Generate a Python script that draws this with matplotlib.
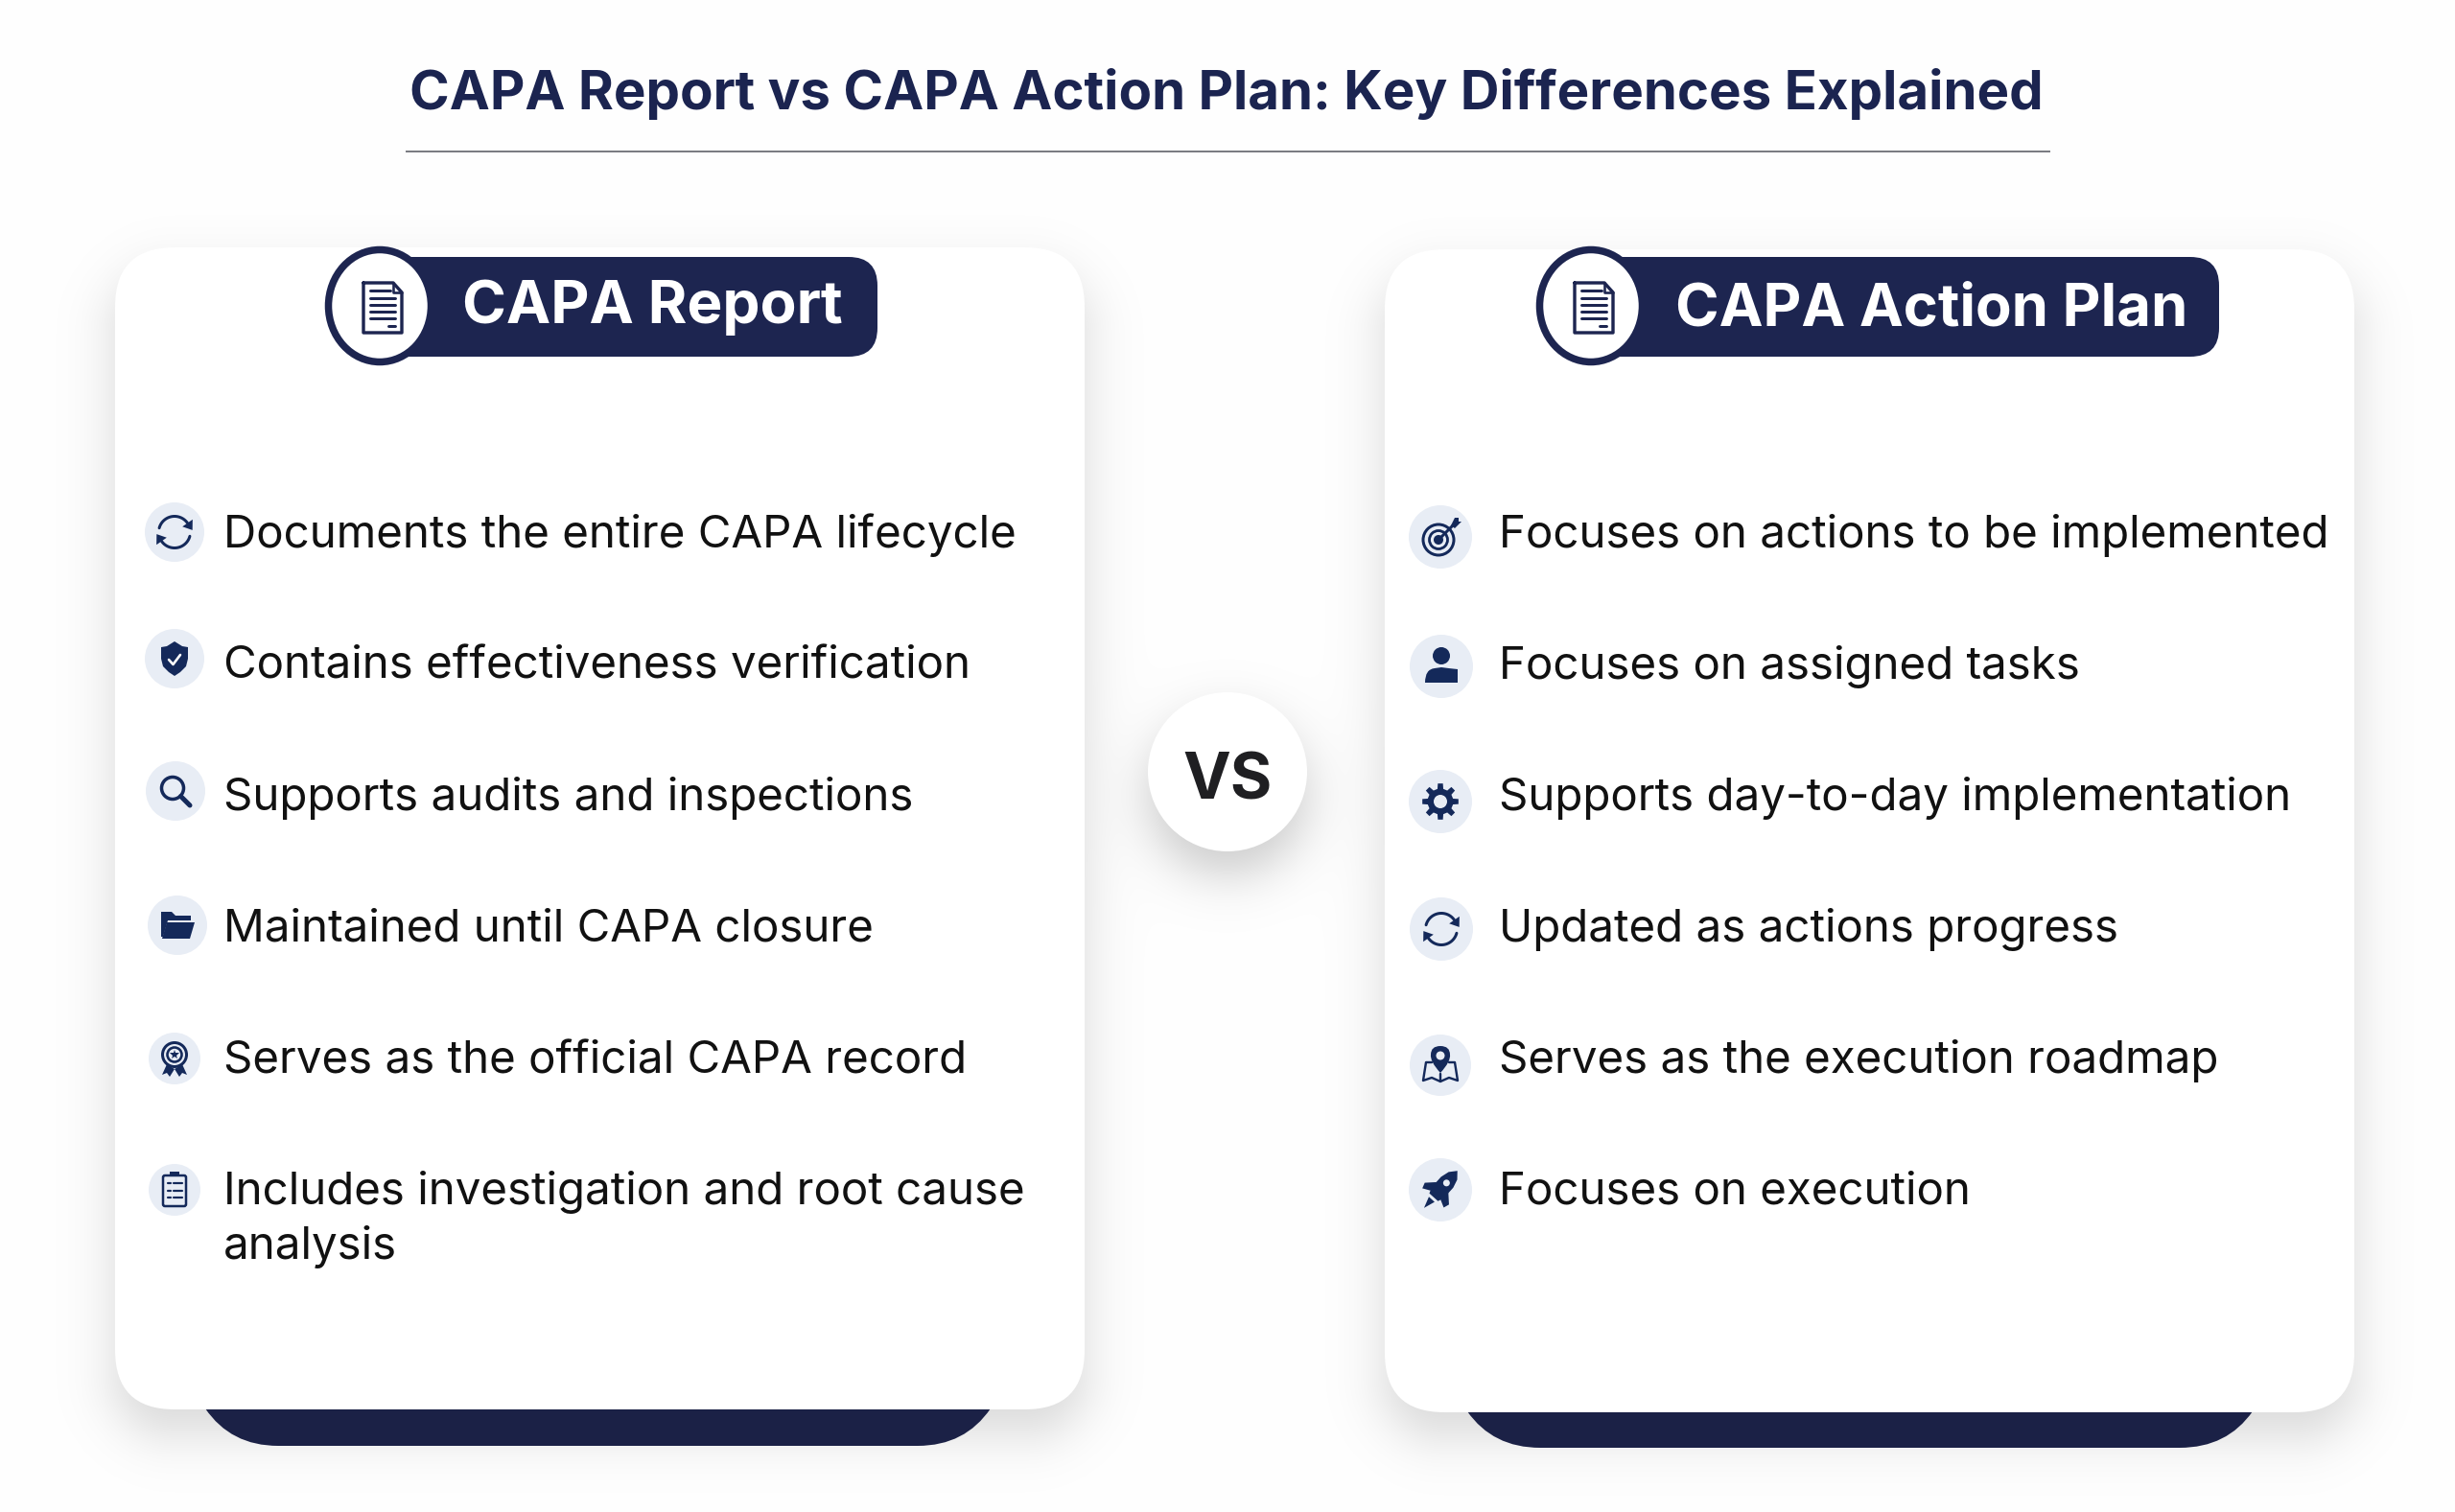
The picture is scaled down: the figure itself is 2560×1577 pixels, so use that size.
import numpy as np
import matplotlib
matplotlib.use("Agg")
import matplotlib.pyplot as plt
from matplotlib.patches import Circle, Ellipse, FancyBboxPatch, Polygon, PathPatch, Rectangle
from matplotlib.path import Path

plt.rcParams['font.family'] = ['Inter', 'DejaVu Sans']

title = "CAPA Report vs CAPA Action Plan: Key Differences Explained"
left_head = "CAPA Report"
right_head = "CAPA Action Plan"
left_items = ["Documents the entire CAPA lifecycle",
              "Contains effectiveness verification",
              "Supports audits and inspections",
              "Maintained until CAPA closure",
              "Serves as the official CAPA record",
              "Includes investigation and root cause\nanalysis"]
right_items = ["Focuses on actions to be implemented",
               "Focuses on assigned tasks",
               "Supports day-to-day implementation",
               "Updated as actions progress",
               "Serves as the execution roadmap",
               "Focuses on execution"]
left_icons = ["refresh", "shield", "search", "folder", "medal", "clipboard"]
right_icons = ["target", "person", "gear", "refresh", "map", "rocket"]

NAVY = "#1d2550"
ICON = "#14295a"
DISC = "#e8edf5"
W, H = 2560, 1577

fig = plt.figure(figsize=(W / 100, H / 100), dpi=100, facecolor="#fefefe")
ax = fig.add_axes([0, 0, 1, 1])
ax.set_xlim(0, W)
ax.set_ylim(H, 0)
ax.axis("off")


def px(v):
    # pixels to points
    return v * 0.72


def rect_sdf(xx, yy, x0, y0, x1, y1, r):
    qx = np.abs(xx - (x0 + x1) / 2) - (x1 - x0) / 2 + r
    qy = np.abs(yy - (y0 + y1) / 2) - (y1 - y0) / 2 + r
    return np.hypot(np.maximum(qx, 0), np.maximum(qy, 0)) + np.minimum(np.maximum(qx, qy), 0) - r


# soft shadows, worked out on a grid and laid under everything
xx, yy = np.meshgrid(np.arange(W) + 0.5, np.arange(H) + 0.5)
d1 = rect_sdf(xx, yy, 120, 286, 1131, 1495, 62)
d2 = rect_sdf(xx, yy, 1444, 288, 2455, 1498, 62)
d3 = np.hypot(xx - 1280, yy - 830) - 80
a1 = 0.15 * 0.5 * (1 - np.tanh(d1 / 34))
a2 = 0.15 * 0.5 * (1 - np.tanh(d2 / 34))
a3 = 0.20 * 0.5 * (1 - np.tanh(d3 / 32))
alpha = 1 - (1 - a1) * (1 - a2) * (1 - a3)
shade = np.zeros((H, W, 4))
shade[..., 3] = alpha
ax.imshow(shade, extent=(0, W, H, 0), zorder=0, interpolation="nearest", aspect="auto")
ax.set_xlim(0, W)
ax.set_ylim(H, 0)


def tab(x0, x1, y0, y1, bend):
    verts = [(x0, y0), (x0 + bend * 0.35, y1), (x0 + bend, y1), (x1 - bend, y1),
             (x1 - bend * 0.35, y1), (x1, y0), (x0, y0)]
    codes = [Path.MOVETO, Path.CURVE3, Path.CURVE3, Path.LINETO, Path.CURVE3, Path.CURVE3, Path.CLOSEPOLY]
    ax.add_patch(PathPatch(Path(verts, codes), fc="#1b2146", ec="none", zorder=1))


def card(x0, x1, y0, y1):
    ax.add_patch(FancyBboxPatch((x0, y0), x1 - x0, y1 - y0, boxstyle="round,pad=0,rounding_size=62",
                                fc="white", ec="none", zorder=2))


def fill(pts, cx, cy, color=ICON, z=6):
    pts = np.asarray(pts, float) + [cx, cy]
    ax.add_patch(Polygon(pts, closed=True, fc=color, ec="none", zorder=z))


def stroke(pts, cx, cy, lw=3.0, color=ICON, z=6):
    pts = np.asarray(pts, float) + [cx, cy]
    ax.plot(pts[:, 0], pts[:, 1], color=color, lw=px(lw), zorder=z, solid_capstyle="round", solid_joinstyle="round")


def ring(cx, cy, r, lw=3.0, fc="none", ec=ICON, z=6):
    ax.add_patch(Circle((cx, cy), r, fc=fc, ec=ec, lw=px(lw), zorder=z))


def curve(verts, codes, cx, cy, color=ICON, z=6):
    verts = np.asarray(verts, float) + [cx, cy]
    ax.add_patch(PathPatch(Path(verts, codes), fc=color, ec="none", zorder=z))


def refresh(cx, cy):
    r = 16.5
    for a, b in [(165, 35), (-15, -145)]:
        t = np.radians(np.linspace(a, b, 30))
        stroke(np.c_[r * np.cos(t), -r * np.sin(t)], cx, cy, 3.0)
        e = np.radians(b)
        ex, ey = r * np.cos(e), -r * np.sin(e)
        tx, ty = np.sin(e), np.cos(e)
        nx, ny = np.cos(e), -np.sin(e)
        fill([(ex + tx * 9, ey + ty * 9), (ex + nx * 6.5, ey + ny * 6.5), (ex - nx * 6.5, ey - ny * 6.5)], cx, cy)


def shield(cx, cy):
    V = [(0, -18), (8, -13), (14, -12), (14, 0), (12, 8), (6, 14), (0, 18), (-6, 14), (-12, 8), (-14, 0), (-14, -12), (-8, -13)]
    fill(V, cx, cy)
    stroke([(-6, 1), (-1.5, 6), (6, -4)], cx, cy, 2.6, color="white", z=7)


def search(cx, cy):
    ring(cx - 3, cy - 3, 11.5, 3.5)
    stroke([(5.5, 5.5), (15, 15)], cx, cy, 5)


def folder(cx, cy):
    fill([(-17, -14), (-6, -14), (-2, -10), (14, -10), (14, -5), (-10, -5), (-15, 12), (-17, 12)], cx, cy)
    fill([(-11, -3), (18, -3), (13, 14), (-16, 14)], cx, cy)


def medal(cx, cy):
    fill([(-8, 6), (-13, 17), (-8, 15), (-5, 19), (0, 11)], cx, cy)
    fill([(8, 6), (13, 17), (8, 15), (5, 19), (0, 11)], cx, cy)
    ring(cx, cy - 4, 12.5, 3.0, fc=DISC)
    ring(cx, cy - 4, 7.5, 2.6, fc=DISC)
    ax.plot(cx, cy - 4, marker="*", ms=px(10), color=ICON, mew=0, zorder=7)


def clipboard(cx, cy):
    ax.add_patch(FancyBboxPatch((cx - 12, cy - 15), 24, 32, boxstyle="round,pad=0,rounding_size=2",
                                fc="none", ec=ICON, lw=px(2.5), zorder=6))
    ax.add_patch(Rectangle((cx - 5, cy - 19), 10, 5, fc=ICON, ec="none", zorder=6))
    for dy in (-7, 1, 8):
        stroke([(-7, dy), (-4, dy)], cx, cy, 2.2)
        stroke([(-1, dy), (8, dy)], cx, cy, 2.2)


def target(cx, cy):
    c0, c1 = cx - 2, cy + 3
    ring(c0, c1, 16, 3.0)
    ring(c0, c1, 9.5, 2.8)
    ring(c0, c1, 3.5, 3, fc=ICON)
    stroke([(-2, 3), (14, -13)], cx, cy, 3, z=7)
    fill([(11, -12), (15, -20), (19, -20), (19, -16), (22, -16), (15, -9)], cx, cy, z=7)


def person(cx, cy):
    ax.add_patch(Circle((cx, cy - 11), 9, fc=ICON, ec="none", zorder=6))
    V = [(-17, 17), (-17, 3), (-7, 2), (0, 1), (7, 2), (17, 3), (17, 17), (-17, 17)]
    C = [Path.MOVETO, Path.CURVE3, Path.CURVE3, Path.LINETO, Path.CURVE3, Path.CURVE3, Path.LINETO, Path.CLOSEPOLY]
    curve(V, C, cx, cy)


def gear(cx, cy):
    pts = []
    for k in range(8):
        a = np.radians(k * 45)
        for off, rad in [(-13, 13.5), (-8, 19), (8, 19), (13, 13.5)]:
            t = a + np.radians(off)
            pts.append((rad * np.cos(t), rad * np.sin(t)))
    fill(pts, cx, cy)
    ax.add_patch(Circle((cx, cy), 7, fc=DISC, ec="none", zorder=7))


def roadmap(cx, cy):
    stroke([(-9, -3), (-15, -3), (-18, 16), (-9, 13), (0, 17), (9, 13), (18, 16), (15, -3), (9, -3)], cx, cy, 2.4)
    stroke([(0, 9), (0, 17)], cx, cy, 2.4)
    V = [(0, 8), (-11, -4), (-10, -11), (-10, -20), (0, -20), (10, -20), (10, -11), (11, -4), (0, 8)]
    C = [Path.MOVETO, Path.CURVE3, Path.CURVE3, Path.CURVE3, Path.CURVE3, Path.CURVE3, Path.CURVE3, Path.CURVE3, Path.CURVE3]
    curve(V, C, cx, cy)
    ax.add_patch(Circle((cx, cy - 10), 4.5, fc=DISC, ec="none", zorder=7))


def rocket(cx, cy):
    a = np.radians(-42)
    rot = np.array([[np.cos(a), np.sin(a)], [-np.sin(a), np.cos(a)]])

    def turn(p):
        return np.asarray(p, float) @ rot.T

    body = [(0, -28), (-6, -21), (-8.5, -12), (-8.5, 3), (-6, 9), (6, 9), (8.5, 3), (8.5, -12), (6, -21)]
    fill(turn(body), cx - 1, cy + 1, z=6)
    fill(turn([(-8, -5), (-17, 4), (-15, 10), (-7, 6)]), cx - 1, cy + 1)
    fill(turn([(8, -5), (17, 4), (15, 10), (7, 6)]), cx - 1, cy + 1)
    fill(turn([(-4, 12), (4, 12), (0, 24)]), cx - 1, cy + 1)
    wx, wy = turn(np.array([[0, -11]]))[0]
    ax.add_patch(Circle((cx - 1 + wx, cy + 1 + wy), 3.5, fc=DISC, ec="none", zorder=7))


def doc(cx, cy):
    stroke([(-20, -26), (11, -26), (20, -16), (20, 26), (-20, 26), (-20, -26)], cx, cy, 3.4, color=NAVY, z=6)
    stroke([(11, -26), (11, -16), (20, -16)], cx, cy, 2.6, color=NAVY, z=6)
    for dy, x1 in [(-18, 8), (-10, 13), (-3, 13), (4, 13), (11, 13)]:
        stroke([(-13, dy), (x1, dy)], cx, cy, 3.0, color=NAVY, z=6)
    stroke([(6, 19), (13, 19)], cx, cy, 3.0, color=NAVY, z=6)


draw_icon = {"refresh": refresh, "shield": shield, "search": search, "folder": folder, "medal": medal,
             "clipboard": clipboard, "target": target, "person": person, "gear": gear, "map": roadmap, "rocket": rocket}


def head(text, circle_x, pill_x1, text_x, base, cy, size):
    ax.add_patch(FancyBboxPatch((circle_x, 268), pill_x1 - circle_x, 104, boxstyle="round,pad=0,rounding_size=30",
                                fc=NAVY, ec="none", zorder=3))
    ax.add_patch(Ellipse((circle_x, cy), 107, 117, fc="white", ec=NAVY, lw=px(7.5), zorder=4))
    doc(circle_x + 3, cy + 2)
    ax.text(text_x, base, text, color="white", fontsize=size, fontweight="bold", va="baseline", ha="left", zorder=5)


def rows(items, icons, text_x, discs):
    for i, (item, name) in enumerate(zip(items, icons)):
        base = 571 + 137 * i
        for j, line in enumerate(item.split("\n")):
            ax.text(text_x, base + 57 * j, line, color="#111111", fontsize=34.2, va="baseline", ha="left", zorder=5)
        dx, dy, r = discs[i]
        ax.add_patch(Circle((dx, dy), r, fc=DISC, ec="none", zorder=5))
        draw_icon[name](dx, dy)


tab(214, 1033, 1469, 1508, 76)
tab(1530, 2349, 1472, 1510, 76)
card(120, 1131, 258, 1470)
card(1444, 2455, 260, 1473)

ax.text(1279, 114, title, color="#1b2450", fontsize=40.6, fontweight="bold", ha="center", va="baseline", zorder=5)
ax.plot([424, 2137], [158, 158], color="#77797f", lw=1.4, zorder=5)

head(left_head, 396, 915, 482, 337, 319, 44.7)
head(right_head, 1659, 2314, 1747, 339, 319, 44.3)

rows(left_items, left_icons, 233,
     [(182, 555, 31), (182, 687, 31), (183, 825, 31), (185, 965, 31), (182, 1104, 27), (182, 1241, 27)])
rows(right_items, right_icons, 1563,
     [(1502, 560, 33), (1503, 695, 33), (1502, 836, 33), (1503, 969, 33), (1502, 1111, 32), (1502, 1241, 33)])

ax.add_patch(Circle((1280, 805), 83, fc="white", ec="none", zorder=3))
ax.text(1280, 833, "VS", color="#1f1f22", fontsize=48, fontweight="bold", ha="center", va="baseline", zorder=5)

fig.savefig("out.png", dpi=100, facecolor=fig.get_facecolor())
